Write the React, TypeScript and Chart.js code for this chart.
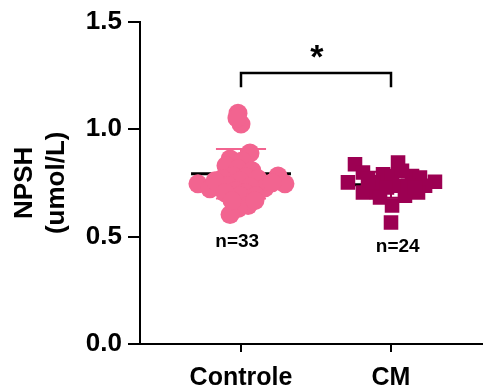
import React, { useEffect, useRef } from 'react';
import { Chart, registerables } from 'chart.js';
Chart.register(...registerables);

const categories = ['Controle', 'CM'];
const tickValues = [0, 0.5, 1.0, 1.5];

const controleValues = [1.074, 1.023, 1.051, 0.889, 0.861, 0.852, 0.829, 0.815, 0.806, 0.782, 0.778, 0.769, 0.769, 0.759, 0.782, 0.745, 0.745, 0.722, 0.727, 0.736, 0.731, 0.713, 0.704, 0.759, 0.75, 0.69, 0.69, 0.704, 0.644, 0.63, 0.602, 0.667, 0.667];
const controleJitter = [-0.02, 0, -0.027, 0.06, -0.073, 0.007, -0.1, -0.02, 0.073, -0.053, 0.033, -0.127, 0.113, -0.007, 0.247, -0.287, 0.293, -0.207, 0.16, -0.087, 0.06, -0.033, 0.027, -0.173, 0.207, -0.007, 0.1, -0.107, 0.047, -0.02, -0.073, 0.093, -0.06];

const cmValues = [0.565, 0.836, 0.844, 0.752, 0.755, 0.798, 0.705, 0.79, 0.782, 0.782, 0.775, 0.736, 0.705, 0.69, 0.644, 0.705, 0.752, 0.728, 0.736, 0.736, 0.728, 0.767, 0.806, 0.682];
const cmJitter = [0, -0.24, 0.047, -0.287, 0.293, -0.187, -0.187, -0.053, 0.007, 0.14, 0.193, 0.227, 0.18, 0.093, 0.007, -0.093, -0.12, -0.027, 0.06, 0.113, 0.16, -0.153, 0.073, -0.073];

const groupMeans = [0.792, 0.741];
const groupSDs = [0.115, 0.06];
const nLabels = ['n=33', 'n=24'];
const sigLabel = '*';
const bracketLow = 1.194;
const bracketHigh = 1.261;

const PINK = '#F26490';
const MAGENTA = '#9C0052';
const FONT = '"Liberation Sans", Arial, sans-serif';

export default function App() {
  const ref = useRef<HTMLCanvasElement | null>(null);
  useEffect(() => {
    document.body.style.margin = '0';
    const canvas = ref.current;
    if (!canvas) return;

    const meanHalf = 0.333;
    const capHalf = 0.167;
    const sdData = (i: number) => {
      const c = i + 1;
      const up = groupMeans[i] + groupSDs[i];
      const lo = groupMeans[i] - groupSDs[i];
      return [
        { x: c - capHalf, y: up }, { x: c + capHalf, y: up }, { x: c, y: null },
        { x: c, y: up }, { x: c, y: lo }, { x: c, y: null },
        { x: c - capHalf, y: lo }, { x: c + capHalf, y: lo },
      ];
    };

    const textPlugin = {
      id: 'annot',
      afterDatasetsDraw(chart: any) {
        const { ctx, scales } = chart;
        const xs = scales.x, ys = scales.y;
        ctx.save();
        ctx.fillStyle = '#000';
        ctx.textAlign = 'center';
        ctx.textBaseline = 'middle';
        ctx.font = `bold 34px ${FONT}`;
        ctx.fillText(sigLabel, xs.getPixelForValue(1.505), ys.getPixelForValue(1.33));
        ctx.font = `bold 19px ${FONT}`;
        ctx.fillText(nLabels[0], xs.getPixelForValue(0.975), ys.getPixelForValue(0.475));
        ctx.fillText(nLabels[1], xs.getPixelForValue(2.045), ys.getPixelForValue(0.452));
        ctx.restore();
      },
    };

    const chart = new Chart(canvas, {
      type: 'scatter',
      data: {
        datasets: [
          {
            data: controleValues.map((v, i) => ({ x: 1 + controleJitter[i], y: v })),
            pointStyle: 'circle', pointRadius: 9.5, pointHoverRadius: 9.5,
            backgroundColor: PINK, borderColor: PINK, borderWidth: 0, order: 0,
          },
          {
            data: cmValues.map((v, i) => ({ x: 2 + cmJitter[i], y: v })),
            pointStyle: 'rect', pointRadius: 10.3, pointHoverRadius: 10.3,
            backgroundColor: MAGENTA, borderColor: MAGENTA, borderWidth: 0, order: 0,
          },
          ...groupMeans.map((m, i) => ({
            data: [{ x: i + 1 - meanHalf, y: m }, { x: i + 1 + meanHalf, y: m }],
            showLine: true, pointRadius: 0, borderColor: '#000', borderWidth: 3, order: 2,
          })),
          ...groupMeans.map((m, i) => ({
            data: sdData(i), showLine: true, spanGaps: false, pointRadius: 0,
            borderColor: i === 0 ? PINK : MAGENTA, borderWidth: 2, order: 1,
          })),
          {
            data: [{ x: 1, y: bracketLow }, { x: 1, y: bracketHigh }, { x: 2, y: bracketHigh }, { x: 2, y: bracketLow }],
            showLine: true, pointRadius: 0, borderColor: '#000', borderWidth: 2.5, order: 1,
          },
        ] as any,
      },
      options: {
        responsive: false,
        animation: false,
        layout: { autoPadding: false, padding: { top: 20, right: 0, left: 0, bottom: 0 } },
        plugins: { legend: { display: false }, tooltip: { enabled: false } },
        scales: {
          x: {
            type: 'linear', min: 0.3267, max: 2.6133,
            afterBuildTicks: (s: any) => { s.ticks = [{ value: 1 }, { value: 2 }]; },
            afterFit: (s: any) => { s.height = 45; s.paddingLeft = 0; s.paddingRight = 0; },
            ticks: {
              color: '#000', font: { family: FONT, size: 25, weight: 'bold' }, padding: 11,
              callback: (v: any) => categories[Math.round(v) - 1],
            },
            grid: { drawOnChartArea: false, drawTicks: true, tickLength: 8, color: '#000', lineWidth: 2 },
            border: { display: true, color: '#000', width: 2 },
          },
          y: {
            min: 0, max: 1.5,
            afterBuildTicks: (s: any) => { s.ticks = tickValues.map((v) => ({ value: v })); },
            afterFit: (s: any) => { s.width = 140; },
            ticks: {
              color: '#000', font: { family: FONT, size: 26, weight: 'bold' }, padding: 6,
              callback: (v: any) => Number(v).toFixed(1),
            },
            grid: { drawOnChartArea: false, drawTicks: true, tickLength: 12, color: '#000', lineWidth: 2 },
            border: { display: true, color: '#000', width: 2 },
            title: {
              display: true, text: ['NPSH', '(umol/L)'], color: '#000',
              font: { family: FONT, size: 26, weight: 'bold', lineHeight: 1.23 }, padding: { top: 9, bottom: 0 },
            },
          },
        },
      } as any,
      plugins: [textPlugin],
    });
    return () => chart.destroy();
  }, []);
  return (
    <div style={{ width: 483, height: 389 }}>
      <canvas ref={ref} width={483} height={389} />
    </div>
  );
}
